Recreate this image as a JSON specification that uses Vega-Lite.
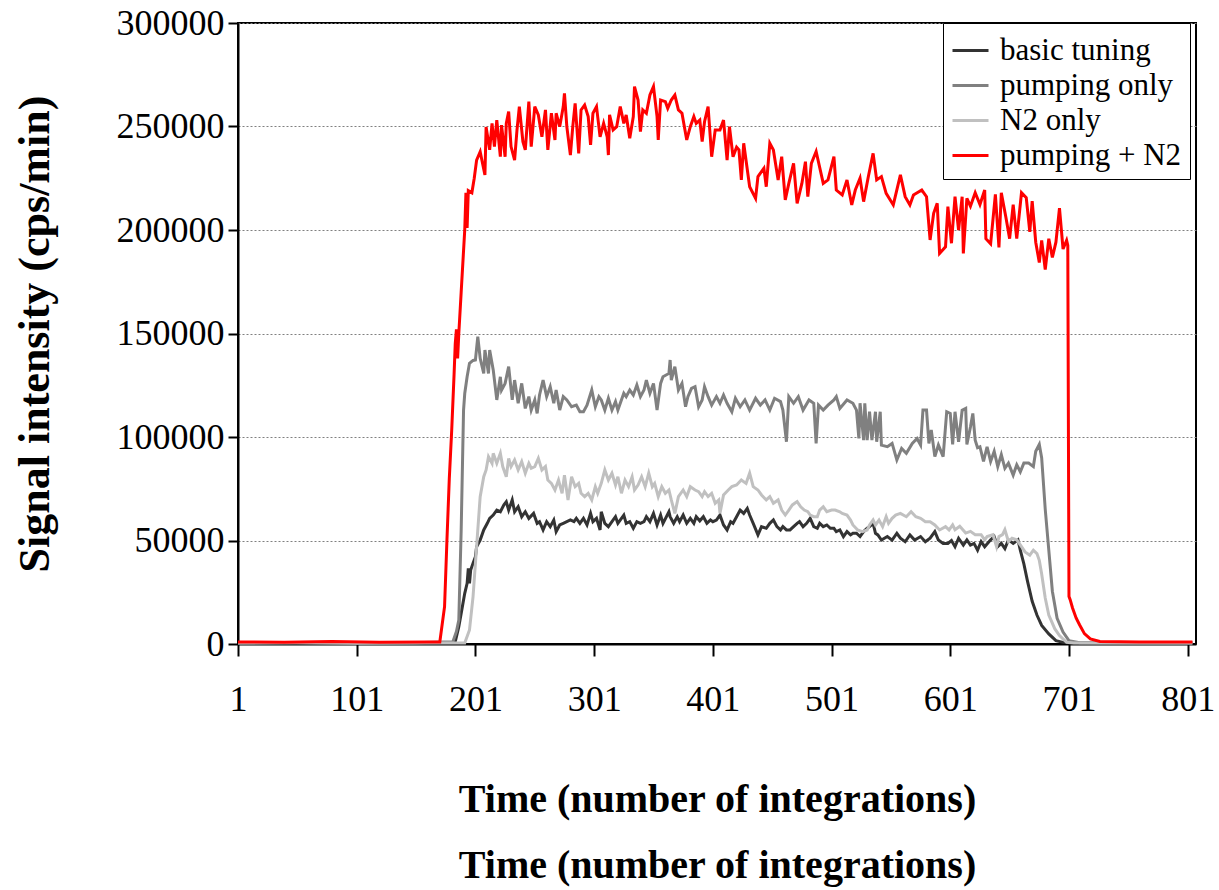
{
"$schema": "https://vega.github.io/schema/vega-lite/v6.json",
"width": 958,
"height": 621,
"autosize": "none",
"padding": {"left": 238, "top": 23, "right": 23, "bottom": 246},
"background": "white",
"config": {
  "font": "Liberation Serif",
  "view": {"stroke": "black", "strokeWidth": 2},
  "axis": {"labelColor": "black", "titleColor": "black", "domainColor": "black", "domainWidth": 2, "tickColor": "black", "tickWidth": 2, "labelFont": "Liberation Serif", "titleFont": "Liberation Serif"},
  "legend": {"labelFont": "Liberation Serif"}
},
"datasets": {
"basic": [
{"t":1,"v":600},{"t":50,"v":400},{"t":100,"v":600},{"t":150,"v":500},{"t":183,"v":800},{"t":184,"v":1100},{"t":187,"v":8400},{"t":189,"v":14800},{"t":192,"v":24500},{"t":194,"v":29300},{"t":195,"v":36500},{"t":196,"v":29300},{"t":197,"v":35700},{"t":199,"v":39000},{"t":201,"v":42200},{"t":202,"v":47000},{"t":205,"v":50200},{"t":208,"v":55100},{"t":211,"v":58300},{"t":213,"v":60700},{"t":216,"v":62300},{"t":219,"v":64700},{"t":222,"v":63900},{"t":225,"v":67200},{"t":227,"v":68700},{"t":229,"v":64700},{"t":232,"v":69600},{"t":234,"v":63900},{"t":237,"v":66300},{"t":240,"v":61500},{"t":243,"v":63900},{"t":246,"v":60700},{"t":250,"v":63100},{"t":253,"v":58300},{"t":255,"v":59100},{"t":258,"v":55100},{"t":261,"v":59100},{"t":264,"v":56700},{"t":267,"v":59900},{"t":269,"v":54300},{"t":272,"v":57500},{"t":275,"v":58300},{"t":278,"v":59100},{"t":281,"v":59900},{"t":284,"v":59100},{"t":286,"v":60700},{"t":289,"v":58300},{"t":292,"v":60700},{"t":295,"v":57500},{"t":298,"v":63100},{"t":300,"v":59100},{"t":303,"v":60700},{"t":306,"v":55100},{"t":307,"v":63900},{"t":310,"v":58300},{"t":313,"v":56700},{"t":316,"v":59100},{"t":319,"v":61500},{"t":321,"v":58300},{"t":326,"v":62300},{"t":328,"v":58300},{"t":331,"v":59100},{"t":334,"v":55900},{"t":337,"v":59100},{"t":340,"v":58300},{"t":343,"v":59100},{"t":345,"v":61500},{"t":348,"v":59100},{"t":351,"v":63100},{"t":354,"v":57500},{"t":357,"v":62300},{"t":359,"v":58300},{"t":364,"v":63900},{"t":365,"v":61500},{"t":368,"v":58300},{"t":371,"v":61500},{"t":373,"v":59100},{"t":376,"v":62300},{"t":379,"v":58300},{"t":382,"v":60700},{"t":385,"v":58300},{"t":387,"v":61500},{"t":390,"v":59500},{"t":393,"v":61500},{"t":396,"v":58300},{"t":399,"v":59900},{"t":401,"v":59100},{"t":404,"v":59900},{"t":407,"v":62300},{"t":410,"v":57500},{"t":413,"v":55100},{"t":416,"v":59100},{"t":418,"v":58300},{"t":421,"v":61500},{"t":424,"v":64700},{"t":427,"v":63100},{"t":430,"v":65500},{"t":432,"v":62300},{"t":435,"v":58300},{"t":439,"v":52700},{"t":442,"v":56700},{"t":446,"v":55900},{"t":449,"v":58300},{"t":452,"v":59900},{"t":455,"v":56700},{"t":458,"v":55100},{"t":460,"v":56700},{"t":463,"v":55100},{"t":466,"v":55100},{"t":469,"v":56700},{"t":472,"v":58300},{"t":474,"v":59100},{"t":477,"v":56700},{"t":480,"v":58300},{"t":483,"v":60700},{"t":486,"v":56700},{"t":489,"v":55900},{"t":491,"v":58300},{"t":494,"v":56700},{"t":497,"v":57500},{"t":500,"v":55900},{"t":503,"v":55900},{"t":505,"v":54300},{"t":508,"v":55100},{"t":511,"v":51900},{"t":514,"v":54300},{"t":517,"v":52700},{"t":519,"v":53500},{"t":522,"v":53500},{"t":525,"v":51900},{"t":528,"v":54300},{"t":531,"v":55900},{"t":533,"v":56700},{"t":536,"v":58300},{"t":538,"v":53500},{"t":540,"v":52700},{"t":543,"v":50200},{"t":548,"v":51900},{"t":552,"v":50200},{"t":556,"v":53500},{"t":559,"v":51100},{"t":563,"v":49400},{"t":567,"v":52700},{"t":571,"v":50200},{"t":576,"v":51900},{"t":580,"v":49400},{"t":584,"v":51100},{"t":588,"v":54300},{"t":591,"v":50200},{"t":595,"v":48600},{"t":599,"v":48600},{"t":602,"v":50000},{"t":605,"v":47000},{"t":608,"v":51100},{"t":612,"v":47800},{"t":615,"v":50300},{"t":618,"v":47800},{"t":621,"v":48600},{"t":624,"v":45300},{"t":627,"v":49500},{"t":630,"v":47000},{"t":635,"v":50300},{"t":638,"v":51900},{"t":641,"v":47000},{"t":644,"v":48600},{"t":647,"v":46100},{"t":650,"v":50300},{"t":654,"v":48600},{"t":658,"v":50300},{"t":660,"v":45300},{"t":663,"v":38700},{"t":666,"v":30500},{"t":670,"v":20600},{"t":674,"v":14000},{"t":678,"v":9000},{"t":684,"v":4900},{"t":690,"v":1600},{"t":696,"v":800},{"t":701,"v":600},{"t":710,"v":500},{"t":760,"v":500},{"t":805,"v":500}
],
"pump": [
{"t":1,"v":500},{"t":50,"v":700},{"t":100,"v":500},{"t":150,"v":600},{"t":182,"v":1100},{"t":185,"v":6000},{"t":187,"v":11600},{"t":189,"v":55100},{"t":191,"v":113000},{"t":192,"v":121000},{"t":194,"v":129100},{"t":196,"v":135600},{"t":199,"v":137000},{"t":201,"v":137200},{"t":203,"v":148500},{"t":205,"v":138000},{"t":206,"v":135600},{"t":208,"v":130700},{"t":209,"v":142000},{"t":212,"v":130700},{"t":213,"v":142000},{"t":216,"v":132400},{"t":219,"v":117900},{"t":222,"v":129100},{"t":223,"v":122700},{"t":226,"v":125900},{"t":229,"v":134000},{"t":232,"v":117900},{"t":234,"v":127500},{"t":237,"v":116300},{"t":240,"v":125900},{"t":243,"v":113800},{"t":246,"v":119500},{"t":248,"v":113000},{"t":251,"v":117900},{"t":253,"v":111400},{"t":255,"v":120300},{"t":258,"v":127500},{"t":261,"v":119500},{"t":264,"v":124300},{"t":267,"v":116300},{"t":269,"v":122700},{"t":272,"v":113000},{"t":275,"v":119500},{"t":278,"v":117900},{"t":282,"v":114600},{"t":286,"v":115400},{"t":289,"v":112200},{"t":292,"v":112200},{"t":295,"v":115400},{"t":299,"v":122700},{"t":302,"v":114600},{"t":305,"v":119500},{"t":307,"v":117900},{"t":310,"v":113000},{"t":313,"v":118700},{"t":316,"v":113000},{"t":319,"v":117100},{"t":321,"v":113000},{"t":326,"v":121100},{"t":328,"v":119500},{"t":331,"v":122700},{"t":334,"v":120300},{"t":337,"v":125100},{"t":340,"v":119500},{"t":343,"v":122700},{"t":345,"v":127500},{"t":348,"v":121100},{"t":351,"v":125900},{"t":354,"v":113000},{"t":357,"v":125900},{"t":359,"v":129100},{"t":364,"v":130700},{"t":365,"v":137200},{"t":366,"v":127500},{"t":369,"v":134000},{"t":372,"v":122700},{"t":375,"v":125900},{"t":378,"v":114600},{"t":380,"v":119500},{"t":383,"v":123500},{"t":386,"v":124300},{"t":389,"v":114600},{"t":392,"v":117900},{"t":394,"v":124300},{"t":397,"v":119500},{"t":400,"v":115400},{"t":404,"v":119500},{"t":407,"v":116300},{"t":410,"v":120300},{"t":413,"v":116300},{"t":417,"v":112200},{"t":420,"v":118700},{"t":424,"v":114600},{"t":428,"v":117900},{"t":432,"v":113000},{"t":437,"v":118700},{"t":441,"v":115400},{"t":445,"v":117900},{"t":449,"v":113000},{"t":453,"v":118700},{"t":458,"v":117100},{"t":460,"v":113000},{"t":463,"v":97700},{"t":465,"v":119500},{"t":469,"v":116300},{"t":473,"v":119500},{"t":477,"v":113000},{"t":482,"v":117900},{"t":486,"v":116300},{"t":488,"v":96900},{"t":490,"v":115400},{"t":494,"v":113000},{"t":498,"v":115400},{"t":503,"v":117900},{"t":505,"v":119500},{"t":508,"v":113800},{"t":514,"v":117900},{"t":519,"v":116300},{"t":522,"v":113000},{"t":524,"v":99300},{"t":525,"v":116300},{"t":528,"v":98500},{"t":529,"v":116300},{"t":531,"v":98500},{"t":533,"v":112200},{"t":535,"v":98500},{"t":538,"v":112200},{"t":539,"v":97700},{"t":542,"v":112200},{"t":543,"v":96100},{"t":548,"v":95300},{"t":552,"v":96900},{"t":556,"v":88900},{"t":560,"v":94500},{"t":564,"v":92100},{"t":569,"v":96900},{"t":573,"v":99300},{"t":576,"v":96100},{"t":578,"v":113000},{"t":581,"v":113000},{"t":583,"v":96900},{"t":585,"v":103400},{"t":588,"v":90500},{"t":591,"v":96100},{"t":595,"v":90500},{"t":598,"v":112200},{"t":601,"v":111400},{"t":603,"v":96400},{"t":605,"v":112200},{"t":608,"v":97700},{"t":611,"v":112900},{"t":614,"v":113800},{"t":615,"v":96400},{"t":618,"v":104800},{"t":620,"v":111400},{"t":622,"v":98500},{"t":624,"v":94800},{"t":626,"v":95300},{"t":629,"v":88200},{"t":632,"v":95300},{"t":635,"v":88200},{"t":638,"v":93100},{"t":641,"v":85700},{"t":644,"v":91500},{"t":647,"v":84900},{"t":650,"v":87400},{"t":654,"v":81600},{"t":657,"v":86600},{"t":660,"v":83200},{"t":663,"v":87400},{"t":667,"v":87400},{"t":671,"v":85700},{"t":673,"v":93100},{"t":676,"v":96400},{"t":678,"v":89900},{"t":681,"v":65100},{"t":684,"v":45300},{"t":687,"v":25500},{"t":691,"v":12400},{"t":696,"v":5800},{"t":701,"v":1600},{"t":710,"v":600},{"t":760,"v":500},{"t":805,"v":500}
],
"n2": [
{"t":1,"v":500},{"t":50,"v":600},{"t":100,"v":400},{"t":150,"v":500},{"t":192,"v":500},{"t":196,"v":6800},{"t":199,"v":22900},{"t":202,"v":47000},{"t":205,"v":71200},{"t":208,"v":80800},{"t":210,"v":84100},{"t":212,"v":90500},{"t":215,"v":87300},{"t":216,"v":92100},{"t":219,"v":87300},{"t":222,"v":92100},{"t":224,"v":85700},{"t":227,"v":80800},{"t":229,"v":89700},{"t":231,"v":85700},{"t":234,"v":88900},{"t":237,"v":84100},{"t":240,"v":88100},{"t":243,"v":82500},{"t":246,"v":87300},{"t":248,"v":84900},{"t":251,"v":85700},{"t":254,"v":89700},{"t":257,"v":84100},{"t":260,"v":85700},{"t":262,"v":79200},{"t":265,"v":77600},{"t":268,"v":74400},{"t":271,"v":79200},{"t":274,"v":72800},{"t":276,"v":81600},{"t":279,"v":69600},{"t":282,"v":80800},{"t":285,"v":76000},{"t":288,"v":77600},{"t":290,"v":72800},{"t":293,"v":71200},{"t":296,"v":72800},{"t":299,"v":69600},{"t":302,"v":76000},{"t":304,"v":72800},{"t":307,"v":77600},{"t":310,"v":84100},{"t":313,"v":79200},{"t":316,"v":82500},{"t":319,"v":76800},{"t":321,"v":80800},{"t":324,"v":72800},{"t":327,"v":79200},{"t":330,"v":76000},{"t":333,"v":80800},{"t":335,"v":74400},{"t":338,"v":76800},{"t":341,"v":80800},{"t":344,"v":76000},{"t":347,"v":82500},{"t":350,"v":76000},{"t":352,"v":77600},{"t":355,"v":71200},{"t":358,"v":76000},{"t":361,"v":72800},{"t":364,"v":74400},{"t":366,"v":69600},{"t":369,"v":63100},{"t":372,"v":71200},{"t":376,"v":74400},{"t":379,"v":71200},{"t":382,"v":76000},{"t":386,"v":74400},{"t":389,"v":73600},{"t":392,"v":71200},{"t":394,"v":73600},{"t":397,"v":71200},{"t":400,"v":72800},{"t":403,"v":68000},{"t":406,"v":69600},{"t":407,"v":63100},{"t":410,"v":72000},{"t":414,"v":74400},{"t":417,"v":76000},{"t":421,"v":76800},{"t":425,"v":79200},{"t":429,"v":77600},{"t":432,"v":82500},{"t":435,"v":76000},{"t":439,"v":74400},{"t":442,"v":72000},{"t":446,"v":69600},{"t":449,"v":71200},{"t":452,"v":68000},{"t":456,"v":69600},{"t":459,"v":64700},{"t":462,"v":62300},{"t":465,"v":64700},{"t":468,"v":67200},{"t":472,"v":68800},{"t":475,"v":66300},{"t":478,"v":64700},{"t":481,"v":63900},{"t":483,"v":62300},{"t":486,"v":61500},{"t":489,"v":61500},{"t":491,"v":64700},{"t":494,"v":66300},{"t":497,"v":63900},{"t":501,"v":64700},{"t":504,"v":64700},{"t":508,"v":63900},{"t":510,"v":63100},{"t":514,"v":62300},{"t":517,"v":59900},{"t":519,"v":57500},{"t":523,"v":55100},{"t":527,"v":54300},{"t":531,"v":55100},{"t":533,"v":57500},{"t":536,"v":59900},{"t":538,"v":57500},{"t":541,"v":59900},{"t":544,"v":56700},{"t":547,"v":61500},{"t":549,"v":58300},{"t":552,"v":60700},{"t":555,"v":62300},{"t":559,"v":63100},{"t":564,"v":61500},{"t":568,"v":63900},{"t":572,"v":61500},{"t":576,"v":60700},{"t":580,"v":59100},{"t":584,"v":59100},{"t":588,"v":57500},{"t":592,"v":55100},{"t":597,"v":56700},{"t":600,"v":55100},{"t":603,"v":57500},{"t":605,"v":55200},{"t":609,"v":56900},{"t":614,"v":53600},{"t":618,"v":54400},{"t":622,"v":52800},{"t":627,"v":52800},{"t":630,"v":50300},{"t":632,"v":51900},{"t":637,"v":52800},{"t":640,"v":47000},{"t":642,"v":51900},{"t":645,"v":52800},{"t":647,"v":55200},{"t":650,"v":49500},{"t":653,"v":51100},{"t":657,"v":50300},{"t":661,"v":47000},{"t":664,"v":44500},{"t":668,"v":42900},{"t":671,"v":45300},{"t":674,"v":43700},{"t":676,"v":40400},{"t":678,"v":33800},{"t":681,"v":22200},{"t":684,"v":14000},{"t":689,"v":7400},{"t":693,"v":4100},{"t":699,"v":800},{"t":705,"v":500},{"t":760,"v":500},{"t":805,"v":500}
],
"pn2": [
{"t":1,"v":1000},{"t":40,"v":800},{"t":80,"v":1200},{"t":120,"v":900},{"t":160,"v":1000},{"t":171,"v":1000},{"t":175,"v":18000},{"t":177,"v":50000},{"t":179,"v":80000},{"t":181,"v":103000},{"t":183,"v":130000},{"t":184,"v":145000},{"t":185,"v":152000},{"t":186,"v":138000},{"t":187,"v":150000},{"t":189,"v":170000},{"t":191,"v":190000},{"t":192,"v":200000},{"t":193,"v":218000},{"t":194,"v":201000},{"t":195,"v":219000},{"t":198,"v":218000},{"t":200,"v":225000},{"t":202,"v":233800},{"t":205,"v":237800},{"t":209,"v":226600},{"t":210,"v":249800},{"t":213,"v":238700},{"t":215,"v":251500},{"t":217,"v":240300},{"t":219,"v":253100},{"t":222,"v":235400},{"t":223,"v":250700},{"t":226,"v":235400},{"t":227,"v":251500},{"t":229,"v":257200},{"t":231,"v":240300},{"t":234,"v":233800},{"t":236,"v":248300},{"t":238,"v":259600},{"t":241,"v":242700},{"t":243,"v":238700},{"t":246,"v":262000},{"t":248,"v":240300},{"t":251,"v":259600},{"t":254,"v":255600},{"t":257,"v":245000},{"t":260,"v":258000},{"t":262,"v":238700},{"t":265,"v":256400},{"t":268,"v":243500},{"t":269,"v":256400},{"t":272,"v":249900},{"t":275,"v":259600},{"t":276,"v":266000},{"t":278,"v":249900},{"t":281,"v":236200},{"t":283,"v":249900},{"t":285,"v":261200},{"t":288,"v":237000},{"t":290,"v":258000},{"t":293,"v":260400},{"t":296,"v":254800},{"t":298,"v":241100},{"t":300,"v":256400},{"t":303,"v":259600},{"t":306,"v":245000},{"t":309,"v":251500},{"t":312,"v":245000},{"t":313,"v":236200},{"t":314,"v":255600},{"t":317,"v":248300},{"t":320,"v":249900},{"t":323,"v":259600},{"t":326,"v":251500},{"t":328,"v":255600},{"t":331,"v":244300},{"t":334,"v":254800},{"t":335,"v":269300},{"t":338,"v":262800},{"t":340,"v":247500},{"t":342,"v":258000},{"t":345,"v":256400},{"t":348,"v":265200},{"t":351,"v":269300},{"t":354,"v":254800},{"t":355,"v":243500},{"t":357,"v":262800},{"t":361,"v":262000},{"t":363,"v":258800},{"t":366,"v":262800},{"t":369,"v":265200},{"t":372,"v":258000},{"t":375,"v":256400},{"t":379,"v":243500},{"t":382,"v":249900},{"t":385,"v":254800},{"t":387,"v":251500},{"t":390,"v":253100},{"t":392,"v":242700},{"t":394,"v":252300},{"t":397,"v":259600},{"t":400,"v":235400},{"t":403,"v":248300},{"t":407,"v":248300},{"t":410,"v":253100},{"t":413,"v":233800},{"t":415,"v":249900},{"t":418,"v":235400},{"t":421,"v":240000},{"t":423,"v":238700},{"t":425,"v":224200},{"t":427,"v":241900},{"t":432,"v":220900},{"t":437,"v":215300},{"t":439,"v":225800},{"t":444,"v":229800},{"t":446,"v":220900},{"t":449,"v":241900},{"t":452,"v":238700},{"t":456,"v":224200},{"t":459,"v":235400},{"t":462,"v":214500},{"t":465,"v":222500},{"t":469,"v":232200},{"t":472,"v":212900},{"t":476,"v":222500},{"t":479,"v":233000},{"t":481,"v":216100},{"t":484,"v":232200},{"t":488,"v":237900},{"t":494,"v":222500},{"t":498,"v":224200},{"t":503,"v":235400},{"t":505,"v":219300},{"t":510,"v":216900},{"t":514,"v":224200},{"t":518,"v":212100},{"t":521,"v":219300},{"t":525,"v":225000},{"t":528,"v":213700},{"t":532,"v":225800},{"t":536,"v":237000},{"t":539,"v":224200},{"t":543,"v":225800},{"t":547,"v":217700},{"t":553,"v":212100},{"t":559,"v":226600},{"t":563,"v":216100},{"t":567,"v":212100},{"t":570,"v":216900},{"t":577,"v":219300},{"t":581,"v":216100},{"t":584,"v":195200},{"t":587,"v":208100},{"t":590,"v":212900},{"t":592,"v":188700},{"t":597,"v":191900},{"t":599,"v":211300},{"t":602,"v":193600},{"t":605,"v":216100},{"t":608,"v":200000},{"t":611,"v":216100},{"t":612,"v":188700},{"t":615,"v":215300},{"t":618,"v":211500},{"t":622,"v":218000},{"t":626,"v":212300},{"t":630,"v":219300},{"t":631,"v":195800},{"t":635,"v":193300},{"t":639,"v":217200},{"t":642,"v":191600},{"t":644,"v":218000},{"t":648,"v":205700},{"t":651,"v":195800},{"t":654,"v":212300},{"t":657,"v":195800},{"t":661,"v":218000},{"t":665,"v":215600},{"t":668,"v":199100},{"t":670,"v":213900},{"t":673,"v":194100},{"t":676,"v":184300},{"t":678,"v":195000},{"t":681,"v":180900},{"t":684,"v":195800},{"t":687,"v":186700},{"t":690,"v":194100},{"t":693,"v":210600},{"t":696,"v":190800},{"t":699,"v":195000},{"t":700,"v":192500},{"t":701,"v":23000},{"t":702,"v":21400},{"t":704,"v":17400},{"t":707,"v":12600},{"t":710,"v":9200},{"t":714,"v":5000},{"t":719,"v":2500},{"t":727,"v":1200},{"t":760,"v":1000},{"t":805,"v":1000}
]
},
"encoding": {
  "x": {"field": "t", "type": "quantitative", "scale": {"domain": [1, 808], "nice": false, "zero": false},
    "axis": {"values": [1,101,201,301,401,501,601,701,801], "format": "d", "grid": false, "tickSize": 12, "labelFontSize": 36, "labelPadding": 26, "labelFlush": false,
      "title": ["Time (number of integrations)", "Time (number of integrations)"], "titleFontSize": 40, "titleFontWeight": "bold", "titleLineHeight": 66, "titlePadding": 62}},
  "y": {"field": "v", "type": "quantitative", "scale": {"domain": [0, 300000], "nice": false},
    "axis": {"values": [0,50000,100000,150000,200000,250000,300000], "format": "d", "grid": true, "gridColor": "#808080", "gridDash": [2, 2], "gridWidth": 1, "tickSize": 10, "labelFontSize": 36, "labelPadding": 4,
      "title": "Signal intensity (cps/min)", "titleFontSize": 44, "titleFontWeight": "bold", "titlePadding": 59}}
},
"layer": [
  {"data": {"name": "basic"}, "mark": {"type": "line", "strokeWidth": 3},
   "encoding": {"color": {"datum": "basic tuning", "type": "nominal",
     "scale": {"domain": ["basic tuning", "pumping only", "N2 only", "pumping + N2"], "range": ["#333333", "#808080", "#c0c0c0", "#ff0000"]},
     "legend": {"title": null, "orient": "none", "legendX": 705, "legendY": 0, "symbolType": "stroke", "symbolSize": 1296, "symbolStrokeWidth": 3, "labelFontSize": 31, "labelColor": "black", "labelOffset": 10, "rowPadding": 0, "padding": 8, "strokeColor": "black", "fillColor": "white", "labelLimit": 300}}}},
  {"data": {"name": "pump"}, "mark": {"type": "line", "strokeWidth": 3},
   "encoding": {"color": {"datum": "pumping only", "type": "nominal"}}},
  {"data": {"name": "n2"}, "mark": {"type": "line", "strokeWidth": 3},
   "encoding": {"color": {"datum": "N2 only", "type": "nominal"}}},
  {"data": {"name": "pn2"}, "mark": {"type": "line", "strokeWidth": 3},
   "encoding": {"color": {"datum": "pumping + N2", "type": "nominal"}}}
]
}
